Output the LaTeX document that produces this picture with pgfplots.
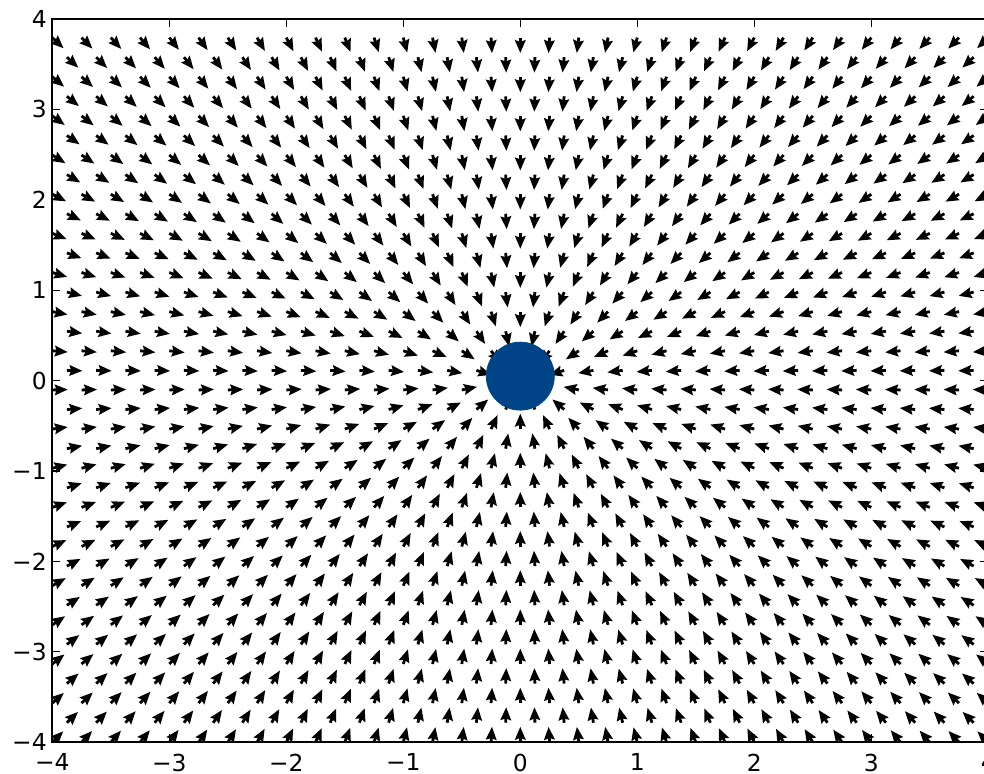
\documentclass[border=0pt]{standalone}
\usepackage{pgfplots}
\pgfplotsset{compat=1.18}
\usepackage{fontspec}
\setmainfont{DejaVu Sans}
\usetikzlibrary{arrows.meta}
\definecolor{circblue}{RGB}{0,68,136}
\begin{document}
\begin{tikzpicture}
\begin{axis}[
  at={(0,0)}, anchor=south west, scale only axis,
  width=468pt, height=361.65pt,
  xmin=-4, xmax=4, ymin=-4, ymax=4,
  xtick={-4,-3,-2,-1,0,1,2,3,4}, ytick={-4,-3,-2,-1,0,1,2,3,4},
  xticklabels={−4,−3,−2,−1,0,1,2,3,4},
  yticklabels={−4,−3,−2,−1,0,1,2,3,4},
  tick align=inside, xtick pos=both, ytick pos=both,
  major tick length=4pt,
  axis line style={line width=1pt},
  tick style={line width=0.6pt, black},
  ticklabel style={font=\fontsize{11.7}{14}\selectfont},
  xticklabel style={inner sep=0pt, anchor=north, yshift=-5.5pt},
  yticklabel style={inner sep=0pt, anchor=east, xshift=-2.6pt},
]
\addplot[black, line width=1.4pt, -{Stealth[length=6.4pt, width=5.2pt, inset=0.8pt]},
  quiver={u={-0.1325*\thisrow{x}/sqrt((\thisrow{x})^2+(\thisrow{y})^2)},
          v={-0.1715*\thisrow{y}/sqrt((\thisrow{x})^2+(\thisrow{y})^2)}}]
table {
x y
-4 -4
-3.75 -4
-3.5 -4
-3.25 -4
-3 -4
-2.75 -4
-2.5 -4
-2.25 -4
-2 -4
-1.75 -4
-1.5 -4
-1.25 -4
-1 -4
-0.75 -4
-0.5 -4
-0.25 -4
0 -4
0.25 -4
0.5 -4
0.75 -4
1 -4
1.25 -4
1.5 -4
1.75 -4
2 -4
2.25 -4
2.5 -4
2.75 -4
3 -4
3.25 -4
3.5 -4
3.75 -4
4 -4
-3.875 -3.7835
-3.625 -3.7835
-3.375 -3.7835
-3.125 -3.7835
-2.875 -3.7835
-2.625 -3.7835
-2.375 -3.7835
-2.125 -3.7835
-1.875 -3.7835
-1.625 -3.7835
-1.375 -3.7835
-1.125 -3.7835
-0.875 -3.7835
-0.625 -3.7835
-0.375 -3.7835
-0.125 -3.7835
0.125 -3.7835
0.375 -3.7835
0.625 -3.7835
0.875 -3.7835
1.125 -3.7835
1.375 -3.7835
1.625 -3.7835
1.875 -3.7835
2.125 -3.7835
2.375 -3.7835
2.625 -3.7835
2.875 -3.7835
3.125 -3.7835
3.375 -3.7835
3.625 -3.7835
3.875 -3.7835
-4 -3.567
-3.75 -3.567
-3.5 -3.567
-3.25 -3.567
-3 -3.567
-2.75 -3.567
-2.5 -3.567
-2.25 -3.567
-2 -3.567
-1.75 -3.567
-1.5 -3.567
-1.25 -3.567
-1 -3.567
-0.75 -3.567
-0.5 -3.567
-0.25 -3.567
0 -3.567
0.25 -3.567
0.5 -3.567
0.75 -3.567
1 -3.567
1.25 -3.567
1.5 -3.567
1.75 -3.567
2 -3.567
2.25 -3.567
2.5 -3.567
2.75 -3.567
3 -3.567
3.25 -3.567
3.5 -3.567
3.75 -3.567
4 -3.567
-3.875 -3.3505
-3.625 -3.3505
-3.375 -3.3505
-3.125 -3.3505
-2.875 -3.3505
-2.625 -3.3505
-2.375 -3.3505
-2.125 -3.3505
-1.875 -3.3505
-1.625 -3.3505
-1.375 -3.3505
-1.125 -3.3505
-0.875 -3.3505
-0.625 -3.3505
-0.375 -3.3505
-0.125 -3.3505
0.125 -3.3505
0.375 -3.3505
0.625 -3.3505
0.875 -3.3505
1.125 -3.3505
1.375 -3.3505
1.625 -3.3505
1.875 -3.3505
2.125 -3.3505
2.375 -3.3505
2.625 -3.3505
2.875 -3.3505
3.125 -3.3505
3.375 -3.3505
3.625 -3.3505
3.875 -3.3505
-4 -3.134
-3.75 -3.134
-3.5 -3.134
-3.25 -3.134
-3 -3.134
-2.75 -3.134
-2.5 -3.134
-2.25 -3.134
-2 -3.134
-1.75 -3.134
-1.5 -3.134
-1.25 -3.134
-1 -3.134
-0.75 -3.134
-0.5 -3.134
-0.25 -3.134
0 -3.134
0.25 -3.134
0.5 -3.134
0.75 -3.134
1 -3.134
1.25 -3.134
1.5 -3.134
1.75 -3.134
2 -3.134
2.25 -3.134
2.5 -3.134
2.75 -3.134
3 -3.134
3.25 -3.134
3.5 -3.134
3.75 -3.134
4 -3.134
-3.875 -2.9175
-3.625 -2.9175
-3.375 -2.9175
-3.125 -2.9175
-2.875 -2.9175
-2.625 -2.9175
-2.375 -2.9175
-2.125 -2.9175
-1.875 -2.9175
-1.625 -2.9175
-1.375 -2.9175
-1.125 -2.9175
-0.875 -2.9175
-0.625 -2.9175
-0.375 -2.9175
-0.125 -2.9175
0.125 -2.9175
0.375 -2.9175
0.625 -2.9175
0.875 -2.9175
1.125 -2.9175
1.375 -2.9175
1.625 -2.9175
1.875 -2.9175
2.125 -2.9175
2.375 -2.9175
2.625 -2.9175
2.875 -2.9175
3.125 -2.9175
3.375 -2.9175
3.625 -2.9175
3.875 -2.9175
-4 -2.701
-3.75 -2.701
-3.5 -2.701
-3.25 -2.701
-3 -2.701
-2.75 -2.701
-2.5 -2.701
-2.25 -2.701
-2 -2.701
-1.75 -2.701
-1.5 -2.701
-1.25 -2.701
-1 -2.701
-0.75 -2.701
-0.5 -2.701
-0.25 -2.701
0 -2.701
0.25 -2.701
0.5 -2.701
0.75 -2.701
1 -2.701
1.25 -2.701
1.5 -2.701
1.75 -2.701
2 -2.701
2.25 -2.701
2.5 -2.701
2.75 -2.701
3 -2.701
3.25 -2.701
3.5 -2.701
3.75 -2.701
4 -2.701
-3.875 -2.4845
-3.625 -2.4845
-3.375 -2.4845
-3.125 -2.4845
-2.875 -2.4845
-2.625 -2.4845
-2.375 -2.4845
-2.125 -2.4845
-1.875 -2.4845
-1.625 -2.4845
-1.375 -2.4845
-1.125 -2.4845
-0.875 -2.4845
-0.625 -2.4845
-0.375 -2.4845
-0.125 -2.4845
0.125 -2.4845
0.375 -2.4845
0.625 -2.4845
0.875 -2.4845
1.125 -2.4845
1.375 -2.4845
1.625 -2.4845
1.875 -2.4845
2.125 -2.4845
2.375 -2.4845
2.625 -2.4845
2.875 -2.4845
3.125 -2.4845
3.375 -2.4845
3.625 -2.4845
3.875 -2.4845
-4 -2.268
-3.75 -2.268
-3.5 -2.268
-3.25 -2.268
-3 -2.268
-2.75 -2.268
-2.5 -2.268
-2.25 -2.268
-2 -2.268
-1.75 -2.268
-1.5 -2.268
-1.25 -2.268
-1 -2.268
-0.75 -2.268
-0.5 -2.268
-0.25 -2.268
0 -2.268
0.25 -2.268
0.5 -2.268
0.75 -2.268
1 -2.268
1.25 -2.268
1.5 -2.268
1.75 -2.268
2 -2.268
2.25 -2.268
2.5 -2.268
2.75 -2.268
3 -2.268
3.25 -2.268
3.5 -2.268
3.75 -2.268
4 -2.268
-3.875 -2.0514
-3.625 -2.0514
-3.375 -2.0514
-3.125 -2.0514
-2.875 -2.0514
-2.625 -2.0514
-2.375 -2.0514
-2.125 -2.0514
-1.875 -2.0514
-1.625 -2.0514
-1.375 -2.0514
-1.125 -2.0514
-0.875 -2.0514
-0.625 -2.0514
-0.375 -2.0514
-0.125 -2.0514
0.125 -2.0514
0.375 -2.0514
0.625 -2.0514
0.875 -2.0514
1.125 -2.0514
1.375 -2.0514
1.625 -2.0514
1.875 -2.0514
2.125 -2.0514
2.375 -2.0514
2.625 -2.0514
2.875 -2.0514
3.125 -2.0514
3.375 -2.0514
3.625 -2.0514
3.875 -2.0514
-4 -1.8349
-3.75 -1.8349
-3.5 -1.8349
-3.25 -1.8349
-3 -1.8349
-2.75 -1.8349
-2.5 -1.8349
-2.25 -1.8349
-2 -1.8349
-1.75 -1.8349
-1.5 -1.8349
-1.25 -1.8349
-1 -1.8349
-0.75 -1.8349
-0.5 -1.8349
-0.25 -1.8349
0 -1.8349
0.25 -1.8349
0.5 -1.8349
0.75 -1.8349
1 -1.8349
1.25 -1.8349
1.5 -1.8349
1.75 -1.8349
2 -1.8349
2.25 -1.8349
2.5 -1.8349
2.75 -1.8349
3 -1.8349
3.25 -1.8349
3.5 -1.8349
3.75 -1.8349
4 -1.8349
-3.875 -1.6184
-3.625 -1.6184
-3.375 -1.6184
-3.125 -1.6184
-2.875 -1.6184
-2.625 -1.6184
-2.375 -1.6184
-2.125 -1.6184
-1.875 -1.6184
-1.625 -1.6184
-1.375 -1.6184
-1.125 -1.6184
-0.875 -1.6184
-0.625 -1.6184
-0.375 -1.6184
-0.125 -1.6184
0.125 -1.6184
0.375 -1.6184
0.625 -1.6184
0.875 -1.6184
1.125 -1.6184
1.375 -1.6184
1.625 -1.6184
1.875 -1.6184
2.125 -1.6184
2.375 -1.6184
2.625 -1.6184
2.875 -1.6184
3.125 -1.6184
3.375 -1.6184
3.625 -1.6184
3.875 -1.6184
-4 -1.4019
-3.75 -1.4019
-3.5 -1.4019
-3.25 -1.4019
-3 -1.4019
-2.75 -1.4019
-2.5 -1.4019
-2.25 -1.4019
-2 -1.4019
-1.75 -1.4019
-1.5 -1.4019
-1.25 -1.4019
-1 -1.4019
-0.75 -1.4019
-0.5 -1.4019
-0.25 -1.4019
0 -1.4019
0.25 -1.4019
0.5 -1.4019
0.75 -1.4019
1 -1.4019
1.25 -1.4019
1.5 -1.4019
1.75 -1.4019
2 -1.4019
2.25 -1.4019
2.5 -1.4019
2.75 -1.4019
3 -1.4019
3.25 -1.4019
3.5 -1.4019
3.75 -1.4019
4 -1.4019
-3.875 -1.1854
-3.625 -1.1854
-3.375 -1.1854
-3.125 -1.1854
-2.875 -1.1854
-2.625 -1.1854
-2.375 -1.1854
-2.125 -1.1854
-1.875 -1.1854
-1.625 -1.1854
-1.375 -1.1854
-1.125 -1.1854
-0.875 -1.1854
-0.625 -1.1854
-0.375 -1.1854
-0.125 -1.1854
0.125 -1.1854
0.375 -1.1854
0.625 -1.1854
0.875 -1.1854
1.125 -1.1854
1.375 -1.1854
1.625 -1.1854
1.875 -1.1854
2.125 -1.1854
2.375 -1.1854
2.625 -1.1854
2.875 -1.1854
3.125 -1.1854
3.375 -1.1854
3.625 -1.1854
3.875 -1.1854
-4 -0.9689
-3.75 -0.9689
-3.5 -0.9689
-3.25 -0.9689
-3 -0.9689
-2.75 -0.9689
-2.5 -0.9689
-2.25 -0.9689
-2 -0.9689
-1.75 -0.9689
-1.5 -0.9689
-1.25 -0.9689
-1 -0.9689
-0.75 -0.9689
-0.5 -0.9689
-0.25 -0.9689
0 -0.9689
0.25 -0.9689
0.5 -0.9689
0.75 -0.9689
1 -0.9689
1.25 -0.9689
1.5 -0.9689
1.75 -0.9689
2 -0.9689
2.25 -0.9689
2.5 -0.9689
2.75 -0.9689
3 -0.9689
3.25 -0.9689
3.5 -0.9689
3.75 -0.9689
4 -0.9689
-3.875 -0.7524
-3.625 -0.7524
-3.375 -0.7524
-3.125 -0.7524
-2.875 -0.7524
-2.625 -0.7524
-2.375 -0.7524
-2.125 -0.7524
-1.875 -0.7524
-1.625 -0.7524
-1.375 -0.7524
-1.125 -0.7524
-0.875 -0.7524
-0.625 -0.7524
-0.375 -0.7524
-0.125 -0.7524
0.125 -0.7524
0.375 -0.7524
0.625 -0.7524
0.875 -0.7524
1.125 -0.7524
1.375 -0.7524
1.625 -0.7524
1.875 -0.7524
2.125 -0.7524
2.375 -0.7524
2.625 -0.7524
2.875 -0.7524
3.125 -0.7524
3.375 -0.7524
3.625 -0.7524
3.875 -0.7524
-4 -0.5359
-3.75 -0.5359
-3.5 -0.5359
-3.25 -0.5359
-3 -0.5359
-2.75 -0.5359
-2.5 -0.5359
-2.25 -0.5359
-2 -0.5359
-1.75 -0.5359
-1.5 -0.5359
-1.25 -0.5359
-1 -0.5359
-0.75 -0.5359
-0.5 -0.5359
-0.25 -0.5359
0 -0.5359
0.25 -0.5359
0.5 -0.5359
0.75 -0.5359
1 -0.5359
1.25 -0.5359
1.5 -0.5359
1.75 -0.5359
2 -0.5359
2.25 -0.5359
2.5 -0.5359
2.75 -0.5359
3 -0.5359
3.25 -0.5359
3.5 -0.5359
3.75 -0.5359
4 -0.5359
-3.875 -0.3194
-3.625 -0.3194
-3.375 -0.3194
-3.125 -0.3194
-2.875 -0.3194
-2.625 -0.3194
-2.375 -0.3194
-2.125 -0.3194
-1.875 -0.3194
-1.625 -0.3194
-1.375 -0.3194
-1.125 -0.3194
-0.875 -0.3194
-0.625 -0.3194
-0.375 -0.3194
-0.125 -0.3194
0.125 -0.3194
0.375 -0.3194
0.625 -0.3194
0.875 -0.3194
1.125 -0.3194
1.375 -0.3194
1.625 -0.3194
1.875 -0.3194
2.125 -0.3194
2.375 -0.3194
2.625 -0.3194
2.875 -0.3194
3.125 -0.3194
3.375 -0.3194
3.625 -0.3194
3.875 -0.3194
-4 -0.1029
-3.75 -0.1029
-3.5 -0.1029
-3.25 -0.1029
-3 -0.1029
-2.75 -0.1029
-2.5 -0.1029
-2.25 -0.1029
-2 -0.1029
-1.75 -0.1029
-1.5 -0.1029
-1.25 -0.1029
-1 -0.1029
-0.75 -0.1029
-0.5 -0.1029
-0.25 -0.1029
0 -0.1029
0.25 -0.1029
0.5 -0.1029
0.75 -0.1029
1 -0.1029
1.25 -0.1029
1.5 -0.1029
1.75 -0.1029
2 -0.1029
2.25 -0.1029
2.5 -0.1029
2.75 -0.1029
3 -0.1029
3.25 -0.1029
3.5 -0.1029
3.75 -0.1029
4 -0.1029
-3.875 0.1136
-3.625 0.1136
-3.375 0.1136
-3.125 0.1136
-2.875 0.1136
-2.625 0.1136
-2.375 0.1136
-2.125 0.1136
-1.875 0.1136
-1.625 0.1136
-1.375 0.1136
-1.125 0.1136
-0.875 0.1136
-0.625 0.1136
-0.375 0.1136
-0.125 0.1136
0.125 0.1136
0.375 0.1136
0.625 0.1136
0.875 0.1136
1.125 0.1136
1.375 0.1136
1.625 0.1136
1.875 0.1136
2.125 0.1136
2.375 0.1136
2.625 0.1136
2.875 0.1136
3.125 0.1136
3.375 0.1136
3.625 0.1136
3.875 0.1136
-4 0.3301
-3.75 0.3301
-3.5 0.3301
-3.25 0.3301
-3 0.3301
-2.75 0.3301
-2.5 0.3301
-2.25 0.3301
-2 0.3301
-1.75 0.3301
-1.5 0.3301
-1.25 0.3301
-1 0.3301
-0.75 0.3301
-0.5 0.3301
-0.25 0.3301
0 0.3301
0.25 0.3301
0.5 0.3301
0.75 0.3301
1 0.3301
1.25 0.3301
1.5 0.3301
1.75 0.3301
2 0.3301
2.25 0.3301
2.5 0.3301
2.75 0.3301
3 0.3301
3.25 0.3301
3.5 0.3301
3.75 0.3301
4 0.3301
-3.875 0.5466
-3.625 0.5466
-3.375 0.5466
-3.125 0.5466
-2.875 0.5466
-2.625 0.5466
-2.375 0.5466
-2.125 0.5466
-1.875 0.5466
-1.625 0.5466
-1.375 0.5466
-1.125 0.5466
-0.875 0.5466
-0.625 0.5466
-0.375 0.5466
-0.125 0.5466
0.125 0.5466
0.375 0.5466
0.625 0.5466
0.875 0.5466
1.125 0.5466
1.375 0.5466
1.625 0.5466
1.875 0.5466
2.125 0.5466
2.375 0.5466
2.625 0.5466
2.875 0.5466
3.125 0.5466
3.375 0.5466
3.625 0.5466
3.875 0.5466
-4 0.7631
-3.75 0.7631
-3.5 0.7631
-3.25 0.7631
-3 0.7631
-2.75 0.7631
-2.5 0.7631
-2.25 0.7631
-2 0.7631
-1.75 0.7631
-1.5 0.7631
-1.25 0.7631
-1 0.7631
-0.75 0.7631
-0.5 0.7631
-0.25 0.7631
0 0.7631
0.25 0.7631
0.5 0.7631
0.75 0.7631
1 0.7631
1.25 0.7631
1.5 0.7631
1.75 0.7631
2 0.7631
2.25 0.7631
2.5 0.7631
2.75 0.7631
3 0.7631
3.25 0.7631
3.5 0.7631
3.75 0.7631
4 0.7631
-3.875 0.9796
-3.625 0.9796
-3.375 0.9796
-3.125 0.9796
-2.875 0.9796
-2.625 0.9796
-2.375 0.9796
-2.125 0.9796
-1.875 0.9796
-1.625 0.9796
-1.375 0.9796
-1.125 0.9796
-0.875 0.9796
-0.625 0.9796
-0.375 0.9796
-0.125 0.9796
0.125 0.9796
0.375 0.9796
0.625 0.9796
0.875 0.9796
1.125 0.9796
1.375 0.9796
1.625 0.9796
1.875 0.9796
2.125 0.9796
2.375 0.9796
2.625 0.9796
2.875 0.9796
3.125 0.9796
3.375 0.9796
3.625 0.9796
3.875 0.9796
-4 1.1962
-3.75 1.1962
-3.5 1.1962
-3.25 1.1962
-3 1.1962
-2.75 1.1962
-2.5 1.1962
-2.25 1.1962
-2 1.1962
-1.75 1.1962
-1.5 1.1962
-1.25 1.1962
-1 1.1962
-0.75 1.1962
-0.5 1.1962
-0.25 1.1962
0 1.1962
0.25 1.1962
0.5 1.1962
0.75 1.1962
1 1.1962
1.25 1.1962
1.5 1.1962
1.75 1.1962
2 1.1962
2.25 1.1962
2.5 1.1962
2.75 1.1962
3 1.1962
3.25 1.1962
3.5 1.1962
3.75 1.1962
4 1.1962
-3.875 1.4127
-3.625 1.4127
-3.375 1.4127
-3.125 1.4127
-2.875 1.4127
-2.625 1.4127
-2.375 1.4127
-2.125 1.4127
-1.875 1.4127
-1.625 1.4127
-1.375 1.4127
-1.125 1.4127
-0.875 1.4127
-0.625 1.4127
-0.375 1.4127
-0.125 1.4127
0.125 1.4127
0.375 1.4127
0.625 1.4127
0.875 1.4127
1.125 1.4127
1.375 1.4127
1.625 1.4127
1.875 1.4127
2.125 1.4127
2.375 1.4127
2.625 1.4127
2.875 1.4127
3.125 1.4127
3.375 1.4127
3.625 1.4127
3.875 1.4127
-4 1.6292
-3.75 1.6292
-3.5 1.6292
-3.25 1.6292
-3 1.6292
-2.75 1.6292
-2.5 1.6292
-2.25 1.6292
-2 1.6292
-1.75 1.6292
-1.5 1.6292
-1.25 1.6292
-1 1.6292
-0.75 1.6292
-0.5 1.6292
-0.25 1.6292
0 1.6292
0.25 1.6292
0.5 1.6292
0.75 1.6292
1 1.6292
1.25 1.6292
1.5 1.6292
1.75 1.6292
2 1.6292
2.25 1.6292
2.5 1.6292
2.75 1.6292
3 1.6292
3.25 1.6292
3.5 1.6292
3.75 1.6292
4 1.6292
-3.875 1.8457
-3.625 1.8457
-3.375 1.8457
-3.125 1.8457
-2.875 1.8457
-2.625 1.8457
-2.375 1.8457
-2.125 1.8457
-1.875 1.8457
-1.625 1.8457
-1.375 1.8457
-1.125 1.8457
-0.875 1.8457
-0.625 1.8457
-0.375 1.8457
-0.125 1.8457
0.125 1.8457
0.375 1.8457
0.625 1.8457
0.875 1.8457
1.125 1.8457
1.375 1.8457
1.625 1.8457
1.875 1.8457
2.125 1.8457
2.375 1.8457
2.625 1.8457
2.875 1.8457
3.125 1.8457
3.375 1.8457
3.625 1.8457
3.875 1.8457
-4 2.0622
-3.75 2.0622
-3.5 2.0622
-3.25 2.0622
-3 2.0622
-2.75 2.0622
-2.5 2.0622
-2.25 2.0622
-2 2.0622
-1.75 2.0622
-1.5 2.0622
-1.25 2.0622
-1 2.0622
-0.75 2.0622
-0.5 2.0622
-0.25 2.0622
0 2.0622
0.25 2.0622
0.5 2.0622
0.75 2.0622
1 2.0622
1.25 2.0622
1.5 2.0622
1.75 2.0622
2 2.0622
2.25 2.0622
2.5 2.0622
2.75 2.0622
3 2.0622
3.25 2.0622
3.5 2.0622
3.75 2.0622
4 2.0622
-3.875 2.2787
-3.625 2.2787
-3.375 2.2787
-3.125 2.2787
-2.875 2.2787
-2.625 2.2787
-2.375 2.2787
-2.125 2.2787
-1.875 2.2787
-1.625 2.2787
-1.375 2.2787
-1.125 2.2787
-0.875 2.2787
-0.625 2.2787
-0.375 2.2787
-0.125 2.2787
0.125 2.2787
0.375 2.2787
0.625 2.2787
0.875 2.2787
1.125 2.2787
1.375 2.2787
1.625 2.2787
1.875 2.2787
2.125 2.2787
2.375 2.2787
2.625 2.2787
2.875 2.2787
3.125 2.2787
3.375 2.2787
3.625 2.2787
3.875 2.2787
-4 2.4952
-3.75 2.4952
-3.5 2.4952
-3.25 2.4952
-3 2.4952
-2.75 2.4952
-2.5 2.4952
-2.25 2.4952
-2 2.4952
-1.75 2.4952
-1.5 2.4952
-1.25 2.4952
-1 2.4952
-0.75 2.4952
-0.5 2.4952
-0.25 2.4952
0 2.4952
0.25 2.4952
0.5 2.4952
0.75 2.4952
1 2.4952
1.25 2.4952
1.5 2.4952
1.75 2.4952
2 2.4952
2.25 2.4952
2.5 2.4952
2.75 2.4952
3 2.4952
3.25 2.4952
3.5 2.4952
3.75 2.4952
4 2.4952
-3.875 2.7117
-3.625 2.7117
-3.375 2.7117
-3.125 2.7117
-2.875 2.7117
-2.625 2.7117
-2.375 2.7117
-2.125 2.7117
-1.875 2.7117
-1.625 2.7117
-1.375 2.7117
-1.125 2.7117
-0.875 2.7117
-0.625 2.7117
-0.375 2.7117
-0.125 2.7117
0.125 2.7117
0.375 2.7117
0.625 2.7117
0.875 2.7117
1.125 2.7117
1.375 2.7117
1.625 2.7117
1.875 2.7117
2.125 2.7117
2.375 2.7117
2.625 2.7117
2.875 2.7117
3.125 2.7117
3.375 2.7117
3.625 2.7117
3.875 2.7117
-4 2.9282
-3.75 2.9282
-3.5 2.9282
-3.25 2.9282
-3 2.9282
-2.75 2.9282
-2.5 2.9282
-2.25 2.9282
-2 2.9282
-1.75 2.9282
-1.5 2.9282
-1.25 2.9282
-1 2.9282
-0.75 2.9282
-0.5 2.9282
-0.25 2.9282
0 2.9282
0.25 2.9282
0.5 2.9282
0.75 2.9282
1 2.9282
1.25 2.9282
1.5 2.9282
1.75 2.9282
2 2.9282
2.25 2.9282
2.5 2.9282
2.75 2.9282
3 2.9282
3.25 2.9282
3.5 2.9282
3.75 2.9282
4 2.9282
-3.875 3.1447
-3.625 3.1447
-3.375 3.1447
-3.125 3.1447
-2.875 3.1447
-2.625 3.1447
-2.375 3.1447
-2.125 3.1447
-1.875 3.1447
-1.625 3.1447
-1.375 3.1447
-1.125 3.1447
-0.875 3.1447
-0.625 3.1447
-0.375 3.1447
-0.125 3.1447
0.125 3.1447
0.375 3.1447
0.625 3.1447
0.875 3.1447
1.125 3.1447
1.375 3.1447
1.625 3.1447
1.875 3.1447
2.125 3.1447
2.375 3.1447
2.625 3.1447
2.875 3.1447
3.125 3.1447
3.375 3.1447
3.625 3.1447
3.875 3.1447
-4 3.3612
-3.75 3.3612
-3.5 3.3612
-3.25 3.3612
-3 3.3612
-2.75 3.3612
-2.5 3.3612
-2.25 3.3612
-2 3.3612
-1.75 3.3612
-1.5 3.3612
-1.25 3.3612
-1 3.3612
-0.75 3.3612
-0.5 3.3612
-0.25 3.3612
0 3.3612
0.25 3.3612
0.5 3.3612
0.75 3.3612
1 3.3612
1.25 3.3612
1.5 3.3612
1.75 3.3612
2 3.3612
2.25 3.3612
2.5 3.3612
2.75 3.3612
3 3.3612
3.25 3.3612
3.5 3.3612
3.75 3.3612
4 3.3612
-3.875 3.5777
-3.625 3.5777
-3.375 3.5777
-3.125 3.5777
-2.875 3.5777
-2.625 3.5777
-2.375 3.5777
-2.125 3.5777
-1.875 3.5777
-1.625 3.5777
-1.375 3.5777
-1.125 3.5777
-0.875 3.5777
-0.625 3.5777
-0.375 3.5777
-0.125 3.5777
0.125 3.5777
0.375 3.5777
0.625 3.5777
0.875 3.5777
1.125 3.5777
1.375 3.5777
1.625 3.5777
1.875 3.5777
2.125 3.5777
2.375 3.5777
2.625 3.5777
2.875 3.5777
3.125 3.5777
3.375 3.5777
3.625 3.5777
3.875 3.5777
-4 3.7942
-3.75 3.7942
-3.5 3.7942
-3.25 3.7942
-3 3.7942
-2.75 3.7942
-2.5 3.7942
-2.25 3.7942
-2 3.7942
-1.75 3.7942
-1.5 3.7942
-1.25 3.7942
-1 3.7942
-0.75 3.7942
-0.5 3.7942
-0.25 3.7942
0 3.7942
0.25 3.7942
0.5 3.7942
0.75 3.7942
1 3.7942
1.25 3.7942
1.5 3.7942
1.75 3.7942
2 3.7942
2.25 3.7942
2.5 3.7942
2.75 3.7942
3 3.7942
3.25 3.7942
3.5 3.7942
3.75 3.7942
4 3.7942
};
\addplot[only marks, mark=*, mark size=17pt, mark options={draw=circblue, fill=circblue}] coordinates {(0,0.05)};
\end{axis}
\pgfresetboundingbox
\useasboundingbox (-26.15pt,-15.85pt) rectangle (465.85pt,371.15pt);
\end{tikzpicture}
\end{document}
